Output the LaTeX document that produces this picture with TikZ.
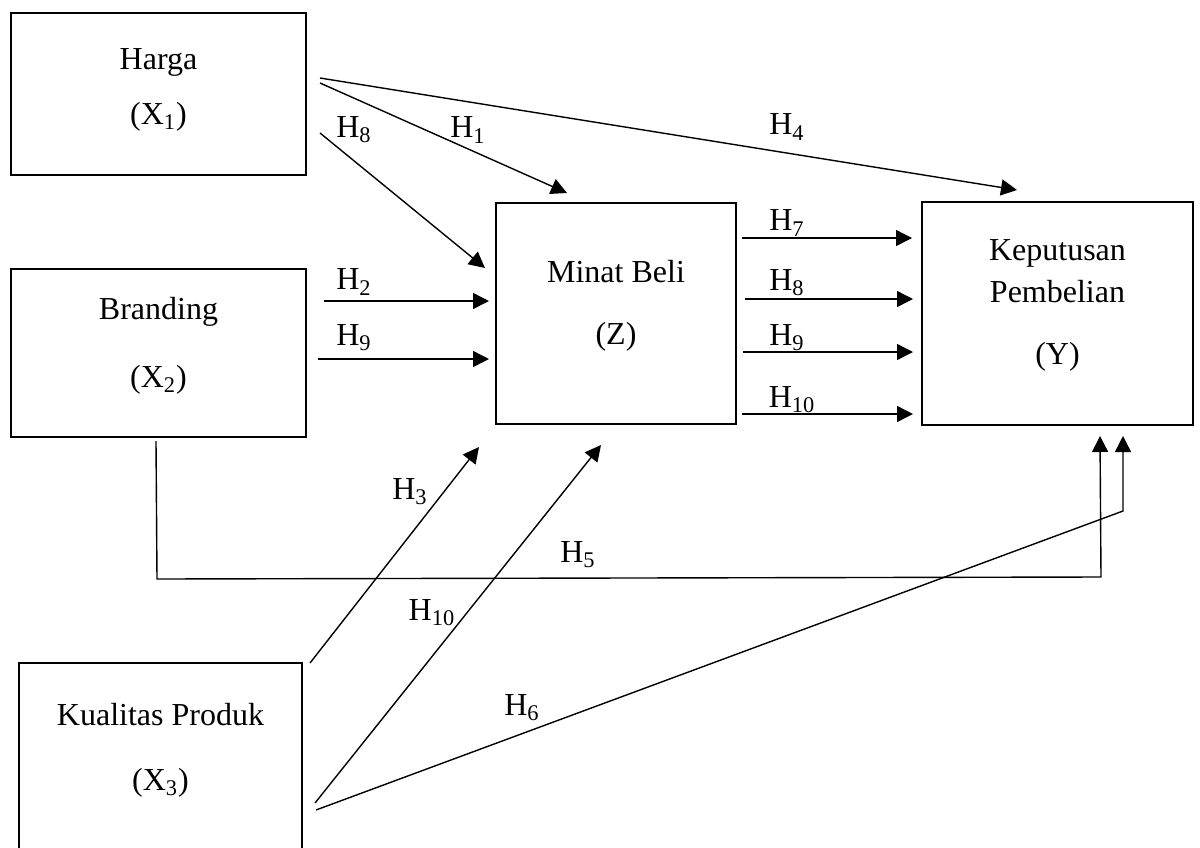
\documentclass[tikz,border=0pt]{standalone}
\usepackage{fontspec}
\setmainfont{Liberation Serif}
\usetikzlibrary{arrows.meta}
\begin{document}
\begin{tikzpicture}[x=0.5pt,y=-0.5pt,
  box/.style={draw, line width=1.4pt, inner sep=0pt},
  txt/.style={font=\fontsize{16}{19}\selectfont, inner sep=0pt},
  lbl/.style={font=\fontsize{16}{19}\selectfont, inner sep=0pt},
  ln/.style={line width=0.7pt},
  arr/.style={line width=0.7pt, -{Triangle[length=8pt,width=8pt]}}]
\useasboundingbox (0,0) rectangle (1200,847);
\clip (0,0) rectangle (1200,847);

% boxes
\node[box, minimum width=147.5pt, minimum height=81pt] (harga) at (158.5,94) {};
\node[box, minimum width=147.5pt, minimum height=84pt] (branding) at (158.5,353) {};
\node[box, minimum width=141.5pt, minimum height=127pt] (kualitas) at (160.5,790) {};
\node[box, minimum width=120pt, minimum height=110.5pt] (minat) at (616,313.5) {};
\node[box, minimum width=135.5pt, minimum height=111.5pt] (keputusan) at (1057.5,313.5) {};

% box texts
\node[txt] (hargaA) at (158.5,62) {Harga};
\node[txt] (hargaB) at (158.5,117) {(X\textsubscript{1})};
\node[txt] (brandA) at (158.5,312) {Branding};
\node[txt] (brandB) at (158.5,380) {(X\textsubscript{2})};
\node[txt] (kualA) at (160.5,715) {Kualitas Produk};
\node[txt] (kualB) at (160.5,783) {(X\textsubscript{3})};
\node[txt] (minatA) at (616,272) {Minat Beli};
\node[txt] (minatB) at (616,337) {(Z)};
\node[txt] (kepA) at (1057.5,253) {Keputusan};
\node[txt] (kepB) at (1057.5,292) {Pembelian};
\node[txt] (kepC) at (1057.5,357) {(Y)};

% connector end points
\coordinate (h4s) at (320,78);   \coordinate (h4e) at (1017,190);
\coordinate (h1s) at (320,83);   \coordinate (h1e) at (567,193);
\coordinate (h8s) at (320,133);  \coordinate (h8e) at (485,268);
\coordinate (h2s) at (324,301);  \coordinate (h2e) at (489,301);
\coordinate (h9s) at (318,359);  \coordinate (h9e) at (489,359);
\coordinate (r7s) at (742,238);  \coordinate (r7e) at (912,238);
\coordinate (r8s) at (745,299);  \coordinate (r8e) at (913,299);
\coordinate (r9s) at (743,352);  \coordinate (r9e) at (913,352);
\coordinate (r10s) at (742,414); \coordinate (r10e) at (913,414);
\coordinate (h5s) at (156,441);  \coordinate (h5a) at (157,579);
\coordinate (h5b) at (1101,577); \coordinate (h5e) at (1100,436);
\coordinate (h6s) at (316,810);  \coordinate (h6a) at (1123,511);
\coordinate (h6e) at (1123,436);
\coordinate (h3s) at (310,663);  \coordinate (h3e) at (479,447);
\coordinate (h10s) at (315,803); \coordinate (h10e) at (601,445);

% connectors
\draw[arr] (h4s) -- (h4e);
\draw[arr] (h1s) -- (h1e);
\draw[arr] (h8s) -- (h8e);
\draw[arr] (h2s) -- (h2e);
\draw[arr] (h9s) -- (h9e);
\draw[arr] (r7s) -- (r7e);
\draw[arr] (r8s) -- (r8e);
\draw[arr] (r9s) -- (r9e);
\draw[arr] (r10s) -- (r10e);
\draw[arr] (h5s) -- (h5a) -- (h5b) -- (h5e);
\draw[arr] (h6s) -- (h6a) -- (h6e);
\draw[arr] (h3s) -- (h3e);
\draw[arr] (h10s) -- (h10e);

% labels
\node[lbl] (l4) at (787,127) {H\textsubscript{4}};
\node[lbl] (l1) at (468,130) {H\textsubscript{1}};
\node[lbl] (l8) at (354,130) {H\textsubscript{8}};
\node[lbl] (l2) at (354,282) {H\textsubscript{2}};
\node[lbl] (l9) at (354,338) {H\textsubscript{9}};
\node[lbl] (lr7) at (787,223) {H\textsubscript{7}};
\node[lbl] (lr8) at (787,283) {H\textsubscript{8}};
\node[lbl] (lr9) at (787,338) {H\textsubscript{9}};
\node[lbl] (lr10) at (792,400) {H\textsubscript{10}};
\node[lbl] (l5) at (578,555) {H\textsubscript{5}};
\node[lbl] (l6) at (522,708) {H\textsubscript{6}};
\node[lbl] (l3) at (410,492) {H\textsubscript{3}};
\node[lbl] (l10) at (432,613) {H\textsubscript{10}};
\end{tikzpicture}
\end{document}
